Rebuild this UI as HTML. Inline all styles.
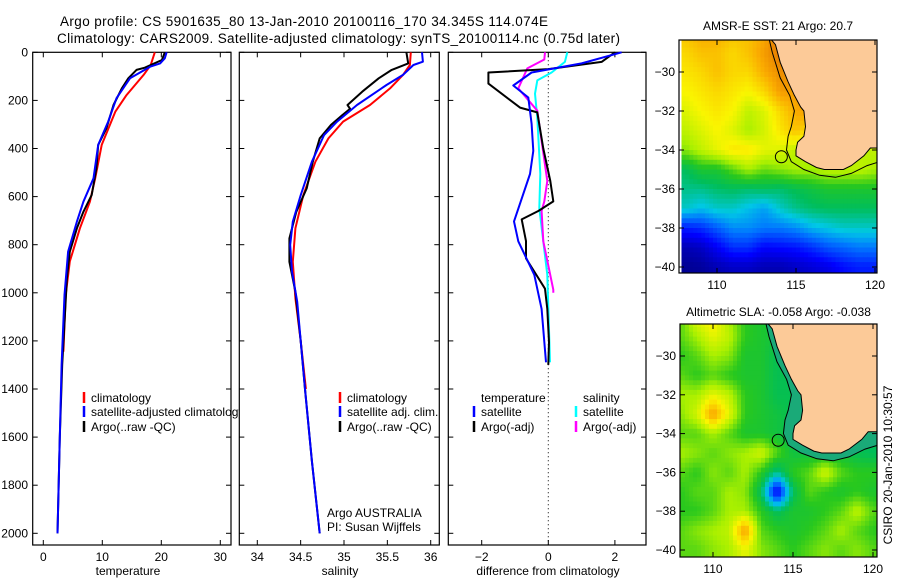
<!DOCTYPE html>
<html><head><meta charset="utf-8"><style>
body{margin:0;background:#fff;}
svg{display:block;font-family:"Liberation Sans",Arial,sans-serif;}
text{font-size:12px;fill:#000;}
</style></head><body>
<svg id="fig" width="900" height="580" viewBox="0 0 900 580" xmlns="http://www.w3.org/2000/svg">
<rect width="900" height="580" fill="#fff"/>
<text x="60" y="26" style="font-size:13.5px" textLength="488">Argo profile: CS 5901635_80 13-Jan-2010 20100116_170 34.345S 114.074E</text>
<text x="57" y="43" style="font-size:13.5px" textLength="563">Climatology: CARS2009. Satellite-adjusted climatology: synTS_20100114.nc (0.75d later)</text>
<g id="g"></g>
<text transform="translate(892,465) rotate(-90)" text-anchor="middle">CSIRO 20-Jan-2010 10:30:57</text>
</svg>
<script>
// ---------- profile data ----------
const depthTickLabels=[0,200,400,600,800,1000,1200,1400,1600,1800,2000];
const tempTickLabels=[0,10,20,30];
const salTickLabels=[34,34.5,35,35.5,36];
const diffTickLabels=[-2,0,2];

const tempClimDepth=[0,53,94,178,247,385,524,621,732,870,1009,1245];
const tempClim=[18.9,18.2,17.0,14.1,12.2,9.9,8.8,7.9,6.2,4.5,3.8,3.4];
const tempSatDepth=[0,25,46,60,108,191,288,385,524,621,704,829,1009,1300,1600,2000];
const tempSat=[20.9,20.6,19.8,18.1,14.7,12.4,11.0,9.3,8.5,6.8,5.7,4.2,3.6,3.1,2.8,2.4];
const tempArgoDepth=[0,32,64,73,108,150,219,316,385,483,593,663,732,829,940,1162,1300,1600,2000];
const tempArgo=[20.6,20.1,17.2,15.8,14.4,13.3,11.9,10.7,9.3,9.0,8.2,6.8,5.7,4.5,4.0,3.5,3.2,2.8,2.4];

const salClimDepth=[0,53,94,150,219,288,358,455,594,732,871,1023,1200,1400];
const salClim=[35.77,35.76,35.68,35.53,35.30,34.99,34.82,34.67,34.53,34.44,34.41,34.44,34.50,34.56];
const salSatDepth=[0,39,53,94,136,219,288,344,455,594,704,801,912,1037,1200,1400,1700,2000];
const salSat=[35.90,35.91,35.80,35.68,35.49,35.15,34.92,34.77,34.63,34.50,34.41,34.38,34.40,34.46,34.50,34.55,34.63,34.72];
const salArgoDepth=[0,46,73,108,164,219,235,261,302,358,455,566,663,774,871,996,1200,1400,1700,2000];
const salArgo=[35.72,35.74,35.55,35.40,35.21,35.04,35.07,34.98,34.85,34.72,34.64,34.57,34.45,34.37,34.37,34.44,34.50,34.55,34.63,34.72];

const dTempSatDepth=[0,46,84,138,188,297,410,506,703,786,925,1067,1289];
const dTempSat=[2.2,1.0,-0.5,-1.05,-0.6,-0.5,-0.45,-0.55,-1.03,-0.9,-0.42,-0.2,-0.07];
const dTempArgoDepth=[0,40,70,84,130,230,250,400,535,620,660,695,785,857,983,1067,1205,1300];
const dTempArgo=[2.0,1.6,0.0,-1.8,-1.8,-0.85,-0.33,-0.15,0.06,0.15,-0.3,-0.8,-0.67,-0.67,-0.1,-0.03,0.02,0.0];
const dSalSatDepth=[0,40,84,117,172,272,506,648,925,1289];
const dSalSat=[0.57,0.5,0.1,-0.33,-0.4,-0.33,-0.24,-0.27,-0.03,0.05];
const dSalArgoDepth=[0,30,67,150,243,368,535,620,660,786,987,1000];
const dSalArgo=[-0.1,-0.12,-0.63,-0.9,-0.33,-0.2,-0.03,-0.12,-0.2,-0.15,0.15,0.15];

// ---------- map data (1-degree grid, lat -28..-40 rows, lon 108..120 cols) ----------
const gridLon=[108,109,110,111,112,113,114,115,116,117,118,119,120];
const gridLat=[-28,-29,-30,-31,-32,-33,-34,-35,-36,-37,-38,-39,-40];
const sstField=[
[.75,.78,.78,.75,.75,.78,.86,.86,.8,.8,.8,.8,.8],
[.72,.75,.75,.72,.75,.80,.85,.85,.8,.8,.8,.8,.8],
[.70,.72,.75,.72,.72,.78,.82,.82,.8,.8,.8,.8,.8],
[.68,.70,.72,.70,.68,.72,.80,.80,.8,.8,.8,.8,.8],
[.65,.68,.70,.68,.62,.65,.72,.78,.8,.8,.8,.8,.8],
[.62,.65,.68,.65,.60,.64,.70,.75,.7,.7,.7,.7,.7],
[.58,.62,.66,.70,.70,.66,.65,.62,.6,.6,.6,.62,.62],
[.45,.50,.50,.55,.60,.56,.58,.60,.60,.62,.62,.62,.60],
[.42,.42,.44,.45,.44,.45,.44,.46,.48,.50,.50,.50,.50],
[.38,.35,.38,.38,.35,.32,.38,.42,.44,.45,.45,.45,.45],
[.18,.20,.25,.30,.30,.28,.28,.30,.34,.36,.38,.38,.38],
[.06,.08,.14,.20,.20,.15,.16,.17,.20,.24,.26,.28,.28],
[.02,.03,.06,.08,.08,.06,.06,.08,.10,.12,.16,.18,.18]];
const slaField=[
[.55,.66,.70,.60,.52,.50,.48,.48,.5,.5,.5,.5,.5],
[.55,.60,.66,.62,.52,.50,.48,.48,.5,.5,.5,.5,.5],
[.52,.55,.60,.58,.50,.50,.46,.46,.5,.5,.5,.5,.5],
[.55,.52,.55,.52,.50,.50,.46,.46,.5,.5,.5,.5,.5],
[.60,.60,.66,.62,.52,.50,.46,.46,.5,.5,.5,.5,.5],
[.58,.64,.80,.66,.52,.50,.48,.46,.5,.5,.5,.5,.5],
[.55,.55,.60,.55,.50,.50,.48,.46,.46,.46,.46,.46,.46],
[.60,.58,.55,.58,.60,.64,.55,.48,.48,.48,.48,.46,.45],
[.55,.52,.58,.55,.60,.52,.42,.52,.55,.64,.55,.52,.52],
[.52,.55,.55,.60,.58,.45,.12,.45,.55,.52,.50,.52,.50],
[.52,.52,.55,.60,.60,.52,.45,.50,.50,.52,.55,.62,.55],
[.55,.58,.60,.62,.80,.55,.52,.50,.52,.55,.60,.55,.52],
[.55,.55,.58,.60,.66,.58,.55,.52,.55,.58,.55,.58,.55]];
const coastLon=[113.4,113.7,114.0,114.5,114.9,115.3,115.5,115.6,115.5,115.1,115.0,115.0,115.6,116.3,116.8,117.5,118.0,118.5,119.3,119.7,120.3];
const coastLat=[-28.3,-28.6,-29.5,-30.5,-31.2,-31.8,-32.0,-32.8,-33.3,-33.6,-34.0,-34.3,-34.6,-34.9,-35.0,-35.0,-35.0,-34.8,-34.3,-33.9,-33.9];
const isoLon=[113.3,113.5,114.0,114.6,114.9,114.7,114.5,114.4,114.7,115.5,116.5,117.5,118.5,119.5,120.3];
const isoLat=[-28.3,-29.0,-30.3,-31.2,-32.0,-32.8,-33.3,-34.0,-34.6,-35.0,-35.3,-35.4,-35.2,-34.8,-34.6];
const floatPos=[114.074,-34.345];
const latTickLabels=[-30,-32,-34,-36,-38,-40];
const lonTickLabels=[110,115,120];

const NS='http://www.w3.org/2000/svg';
const G=document.getElementById('g');
function mk(tag,at,parent){const e=document.createElementNS(NS,tag);for(const k in at)e.setAttribute(k,at[k]);(parent||G).appendChild(e);return e;}
function txt(s,at,parent){const e=mk('text',at,parent);e.textContent=s;return e;}

// ---------- profile panels ----------
const plotTop=52.3,plotBottom=545,kd=0.2405;
const Y=d=>plotTop+d*kd;
const panels=[
 {name:'temperature-panel',x0:32.7,x1:231,X:v=>43.3+v*5.9,ticks:tempTickLabels,label:'temperature',lx:128},
 {name:'salinity-panel',x0:239.3,x1:439.3,X:v=>257.3+(v-34)*86.7,ticks:salTickLabels,label:'salinity',lx:340},
 {name:'difference-panel',x0:448.3,x1:646,X:v=>548.3+v*33.3,ticks:diffTickLabels,label:'difference from climatology',lx:548}];
panels.forEach((p,i)=>{
 const g=mk('g',{});
 
 
 const r=mk('rect',{x:p.x0,y:plotTop,width:p.x1-p.x0,height:plotBottom-plotTop,fill:'#fff',stroke:'#000','stroke-width':1.2},g);
 
 
 p.ticks.forEach(t=>{const x=p.X(t);
  mk('line',{x1:x,x2:x,y1:plotTop,y2:plotTop+5,stroke:'#000'},g);
  mk('line',{x1:x,x2:x,y1:plotBottom,y2:plotBottom-5,stroke:'#000'},g);
  const tl=txt(String(t).replace('-','\u2212'),{x:x,y:561,'text-anchor':'middle'},g);
  
  
 });
 depthTickLabels.forEach(d=>{const y=Y(d);
  mk('line',{x1:p.x0,x2:p.x0+5,y1:y,y2:y,stroke:'#000'},g);
  mk('line',{x1:p.x1,x2:p.x1-5,y1:y,y2:y,stroke:'#000'},g);
  if(i===0){const tl=txt(String(d),{x:28,y:y+4,'text-anchor':'end'},g);
   
   }
 });
 const xl=txt(p.label,{x:p.lx,y:575,'text-anchor':'middle'},g);
 
 
 p.g=g;
});
function curve(p,ds,vs,col,name){
 const pts=ds.map((d,k)=>p.X(vs[k]).toFixed(1)+','+Y(d).toFixed(1)).join(' ');
 const e=mk('polyline',{points:pts,fill:'none',stroke:col,'stroke-width':2,'stroke-linejoin':'round'},p.g);
 
 
}
const P1=panels[0],P2=panels[1],P3=panels[2];
const zl=mk('line',{x1:P3.X(0),x2:P3.X(0),y1:plotTop,y2:plotBottom,stroke:'#000','stroke-dasharray':'1,3'},P3.g);


curve(P1,tempClimDepth,tempClim,'#f00','temp-climatology-line');
curve(P1,tempArgoDepth,tempArgo,'#000','temp-argo-line');
curve(P1,tempSatDepth,tempSat,'#00f','temp-satellite-line');
curve(P2,salClimDepth,salClim,'#f00','sal-climatology-line');
curve(P2,salArgoDepth,salArgo,'#000','sal-argo-line');
curve(P2,salSatDepth,salSat,'#00f','sal-satellite-line');
curve(P3,dSalSatDepth,dSalSat,'#0ff','diff-sal-satellite-line');
curve(P3,dSalArgoDepth,dSalArgo,'#f0f','diff-sal-argo-line');
curve(P3,dTempArgoDepth,dTempArgo,'#000','diff-temp-argo-line');
curve(P3,dTempSatDepth,dTempSat,'#00f','diff-temp-satellite-line');

function legendEntry(g,x,y,col,label){
 const e=mk('g',{},g);
 
 
 if(col)mk('line',{x1:x,x2:x,y1:y-10,y2:y+1,stroke:col,'stroke-width':2.5},e);
 txt(label,{x:x+7,y:y},e);
}
legendEntry(P1.g,84,402,'#f00','climatology');
legendEntry(P1.g,84,416,'#00f','satellite-adjusted climatology');
legendEntry(P1.g,84,431,'#000','Argo(..raw -QC)');
legendEntry(P2.g,340,402,'#f00','climatology');
legendEntry(P2.g,340,416,'#00f','satellite adj. clim.');
legendEntry(P2.g,340,431,'#000','Argo(..raw -QC)');
legendEntry(P3.g,474,402,null,'temperature');
legendEntry(P3.g,474,416,'#00f','satellite');
legendEntry(P3.g,474,431,'#000','Argo(-adj)');
legendEntry(P3.g,576,402,null,'salinity');
legendEntry(P3.g,576,416,'#0ff','satellite');
legendEntry(P3.g,576,431,'#f0f','Argo(-adj)');
G.appendChild(P2.g);G.appendChild(P3.g);
const an=txt('Argo AUSTRALIA',{x:327,y:517},P2.g);


const pi=txt('PI: Susan Wijffels',{x:327,y:531},P2.g);



// ---------- maps ----------
const stops=[[0,[0,0,130]],[.15,[0,0,255]],[.28,[0,120,255]],[.36,[0,200,230]],[.45,[0,190,90]],[.52,[40,200,30]],[.6,[170,240,0]],[.68,[250,245,0]],[.78,[250,170,0]],[.88,[220,100,0]],[1,[150,40,0]]];
function cmap(v){v=Math.max(0,Math.min(1,v));for(let i=1;i<stops.length;i++){if(v<=stops[i][0]){const a=stops[i-1],b=stops[i],t=(v-a[0])/(b[0]-a[0]);return 'rgb('+a[1].map((c,k)=>Math.round(c+(b[1][k]-c)*t)).join(',')+')';}}return 'rgb(150,40,0)';}
function sample(F,lon,lat){
 const fx=Math.max(0,Math.min(12,lon-108)),fy=Math.max(0,Math.min(12,-28-lat));
 const i=Math.min(11,Math.floor(fy)),j=Math.min(11,Math.floor(fx)),ty=fy-i,tx=fx-j;
 return F[i][j]*(1-tx)*(1-ty)+F[i][j+1]*tx*(1-ty)+F[i+1][j]*(1-tx)*ty+F[i+1][j+1]*tx*ty;
}
const maps=[
 {name:'sst-map',field:sstField,x0:679,y0:40,x1:877,y1:273,ax:717,kx:15.8,ay:72,ky:19.5,title:'AMSR-E SST: 21 Argo: 20.7',ty:30,band:false},
 {name:'sla-map',field:slaField,x0:680,y0:324,x1:877,y1:557,ax:713,kx:16,ay:356,ky:19.4,title:'Altimetric SLA: -0.058 Argo: -0.038',ty:316,band:true}];
maps.forEach((m,mi)=>{
 const g=mk('g',{});
 
 
 const X=l=>m.ax+(l-110)*m.kx, Yl=la=>m.ay+(-30-la)*m.ky;
 const cp=mk('clipPath',{id:'clip'+mi},g);
 mk('rect',{x:m.x0,y:m.y0,width:m.x1-m.x0,height:m.y1-m.y0},cp);
 const cells=mk('g',{'clip-path':'url(#clip'+mi+')'},g);
 
 
 for(let la=-28.25;la>-40.75;la-=0.25){for(let lo=107.75;lo<120.5;lo+=0.25){
  const v=sample(m.field,lo+0.125,la-0.125);
  const x=X(lo),y=Yl(la);
  mk('rect',{x:x.toFixed(1),y:y.toFixed(1),width:(m.kx*0.25+0.6).toFixed(1),height:(m.ky*0.25+0.6).toFixed(1),fill:cmap(v)},cells);
 }}
 const cpts=coastLon.map((l,k)=>X(l).toFixed(1)+','+Yl(coastLat[k]).toFixed(1));
 const ipts=isoLon.map((l,k)=>X(l).toFixed(1)+','+Yl(isoLat[k]).toFixed(1));
 if(m.band){const b=mk('polygon',{points:ipts.join(' ')+' '+cpts.slice().reverse().join(' '),fill:'#1aaa78'},cells);
  
  }
 const land=mk('polygon',{points:cpts.join(' ')+' '+X(121)+','+Yl(-33.9)+' '+X(121)+','+Yl(-27)+' '+X(113.4)+','+Yl(-27),fill:'#fcca98',stroke:'#000','stroke-width':1},cells);
 
 
 const iso=mk('polyline',{points:ipts.join(' '),fill:'none',stroke:'#000','stroke-width':1},cells);
 
 
 const fl=mk('circle',{cx:X(floatPos[0]),cy:Yl(floatPos[1]),r:6,fill:'none',stroke:'#000','stroke-width':1},cells);
 
 
 mk('rect',{x:m.x0,y:m.y0,width:m.x1-m.x0,height:m.y1-m.y0,fill:'none',stroke:'#000','stroke-width':1.2},g);
 latTickLabels.forEach(la=>{const y=Yl(la);
  mk('line',{x1:m.x0,x2:m.x0+5,y1:y,y2:y,stroke:'#000'},g);
  mk('line',{x1:m.x1,x2:m.x1-5,y1:y,y2:y,stroke:'#000'},g);
  const t=txt(String(la).replace('-','\u2212'),{x:m.x0-4,y:y+4,'text-anchor':'end'},g);
  
  
 });
 lonTickLabels.forEach(lo=>{const x=X(lo);
  mk('line',{x1:x,x2:x,y1:m.y0,y2:m.y0+5,stroke:'#000'},g);
  mk('line',{x1:x,x2:x,y1:m.y1,y2:m.y1-5,stroke:'#000'},g);
  const t=txt(String(lo),{x:x,y:m.y1+16,'text-anchor':'middle'},g);
  
  
 });
 const tt=txt(m.title,{x:(m.x0+m.x1)/2,y:m.ty,'text-anchor':'middle'},g);
 
 
});
</script>
</body></html>
